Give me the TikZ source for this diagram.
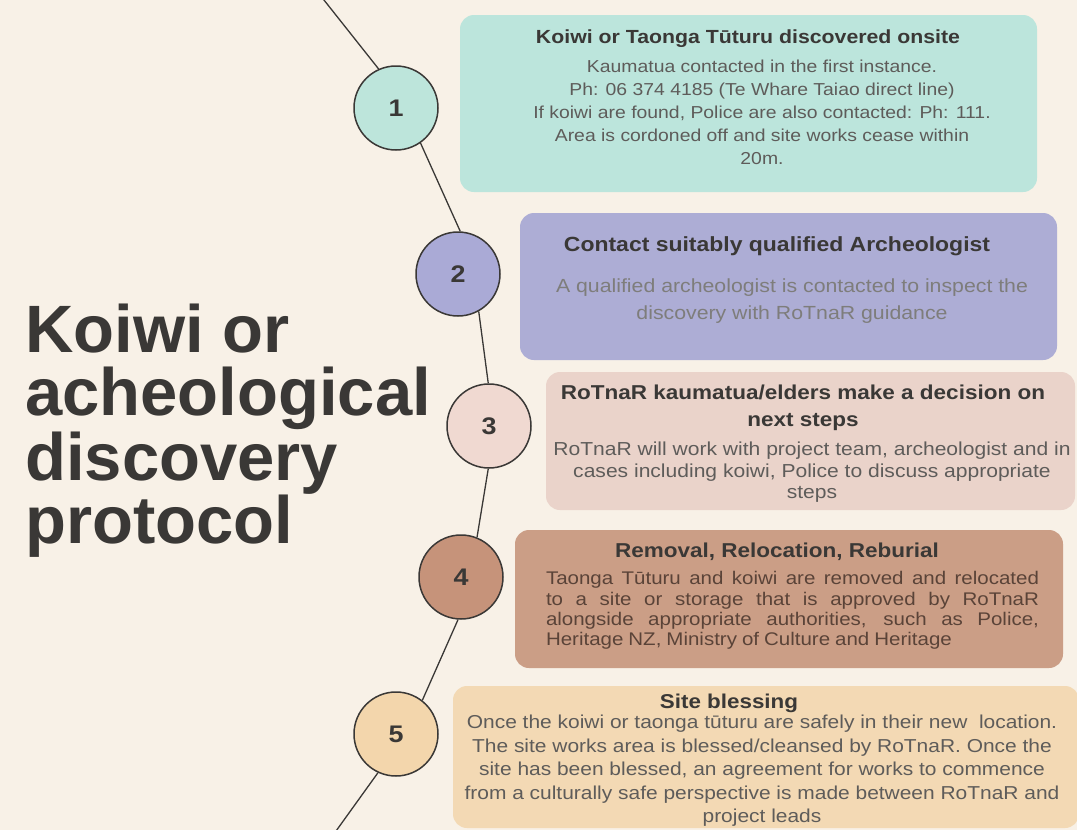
\documentclass[tikz,border=0pt]{standalone}
\usepackage{fontspec}
\setmainfont{Liberation Sans}
\newfontfamily\widefont{Liberation Sans}[FakeStretch=1.12]
\definecolor{bgc}{HTML}{F8F1E7}
\definecolor{boxA}{HTML}{BCE5DC}
\definecolor{boxB}{HTML}{ADADD5}
\definecolor{boxC}{HTML}{EAD3CA}
\definecolor{boxD}{HTML}{CB9E86}
\definecolor{boxE}{HTML}{F3D9B4}
\definecolor{cirA}{HTML}{BDE5DB}
\definecolor{cirB}{HTML}{AAAAD6}
\definecolor{cirC}{HTML}{F0D9D1}
\definecolor{cirD}{HTML}{C6937A}
\definecolor{cirE}{HTML}{F3D6AC}
\definecolor{inkT}{HTML}{3A3836}
\definecolor{inkB}{HTML}{5E5C5A}
\definecolor{inkD}{HTML}{5A4338}
\newcommand{\fst}{\rule{0pt}{20pt}}
\begin{document}
\begin{tikzpicture}[x=1pt,y=-1pt,
  panel/.style={rectangle, rounded corners=14pt, inner sep=0pt, draw=none},
  stepnum/.style={circle, draw=inkT, line width=1.5pt, minimum size=84pt, inner sep=0pt,
    text=inkT, font=\widefont\bfseries\fontsize{24}{24}\selectfont},
  arcline/.style={draw=inkT, line width=1.3pt},
  ttl/.style={anchor=north, inner sep=0pt, align=center, text=inkT},
  bod/.style={anchor=north, inner sep=0pt, align=center, text=inkB},
  bigttl/.style={anchor=base west, inner sep=0pt, text=inkT,
    font=\bfseries\fontsize{67}{64}\selectfont}]
\fill[bgc] (0,0) rectangle (1077,830);
\useasboundingbox (0,0) rectangle (1077,830);

% title
\node[bigttl] (t1) at (25,352) {Koiwi or};
\node[bigttl] (t2) at (25,415) {acheological};
\node[bigttl] (t3) at (25,480) {discovery};
\node[bigttl] (t4) at (25,543) {protocol};

% panels
\node[panel, fill=boxA, minimum width=577pt, minimum height=177pt] (b1) at (748.5,103.5) {};
\node[panel, fill=boxB, minimum width=537pt, minimum height=147pt] (b2) at (788.5,286.5) {};
\node[panel, fill=boxC, minimum width=529pt, minimum height=138pt] (b3) at (810.5,441) {};
\node[panel, fill=boxD, minimum width=548pt, minimum height=138pt] (b4) at (789,599) {};
\node[panel, fill=boxE, minimum width=626pt, minimum height=142pt] (b5) at (766,757) {};

% panel 1
\node[ttl, font=\widefont\bfseries\fontsize{19}{23}\selectfont] (h1) at (748,23)
  {\fst Koiwi or Taonga Tūturu discovered onsite};
\node[bod, font=\widefont\fontsize{17.3}{23}\selectfont] (p1) at (762,52.3)
  {\fst Kaumatua contacted in the first instance.\\
   Ph: 06 374 4185 (Te Whare Taiao direct line)\\
   If koiwi are found, Police are also contacted: Ph: 111.\\
   Area is cordoned off and site works cease within\\
   20m.};

% panel 2
\node[ttl, font=\widefont\bfseries\fontsize{20.5}{27}\selectfont] (h2) at (777,231)
  {\fst Contact suitably qualified Archeologist};
\node[bod, text=inkB!80, font=\widefont\fontsize{19}{27}\selectfont] (p2) at (792,272.7)
  {\fst A qualified archeologist is contacted to inspect the\\
   discovery with RoTnaR guidance};

% panel 3
\node[ttl, font=\widefont\bfseries\fontsize{20.1}{27}\selectfont] (h3) at (803,379)
  {\fst RoTnaR kaumatua/elders make a decision on\\ next steps};
\node[bod, font=\widefont\fontsize{18.8}{21.5}\selectfont] (p3) at (812,435.6)
  {\fst RoTnaR will work with project team, archeologist and in\\
   cases including koiwi, Police to discuss appropriate\\
   steps};

% panel 4
\node[ttl, font=\widefont\bfseries\fontsize{20.1}{24}\selectfont] (h4) at (777,537)
  {\fst Removal, Relocation, Reburial};
\node[bod, text=inkD, align=left, text width=493pt, font=\widefont\fontsize{18.3}{20.3}\selectfont] (p4) at (792.5,564.5)
  {\spaceskip=5pt plus 40pt\fst\makebox[493pt][s]{Taonga Tūturu and koiwi are removed and relocated}\\
   \makebox[493pt][s]{to a site or storage that is approved by RoTnaR}\\
   \makebox[493pt][s]{alongside appropriate authorities, such as Police,}\\
   Heritage NZ, Ministry of Culture and Heritage};

% panel 5
\node[ttl, font=\widefont\bfseries\fontsize{20}{24}\selectfont] (h5) at (729,688)
  {\fst Site blessing};
\node[bod, font=\widefont\fontsize{18.7}{23.5}\selectfont] (p5) at (762,708.6)
  {\fst Once the koiwi or taonga tūturu are safely in their new\ \ location.\\
   The site works area is blessed/cleansed by RoTnaR. Once the\\
   site has been blessed, an agreement for works to commence\\
   from a culturally safe perspective is made between RoTnaR and\\
   project leads};

% step circles
\node[stepnum, fill=cirA] (c1) at (396,108) {1};
\node[stepnum, fill=cirB] (c2) at (458,274) {2};
\node[stepnum, fill=cirC] (c3) at (489,426) {3};
\node[stepnum, fill=cirD] (c4) at (461,577) {4};
\node[stepnum, fill=cirE] (c5) at (396,734) {5};
\coordinate (top) at (320,-5);
\coordinate (bot) at (331,838);

% arc connectors
\draw[arcline] (top) -- (c1.114);
\draw[arcline] (c1.-55) -- (c2.87);
\draw[arcline] (c2.-61) -- (c3.91);
\draw[arcline] (c3.-91) -- (c4.68);
\draw[arcline] (c4.-94) -- (c5.52);
\draw[arcline] (c5.-115) -- (bot);
\end{tikzpicture}
\end{document}
